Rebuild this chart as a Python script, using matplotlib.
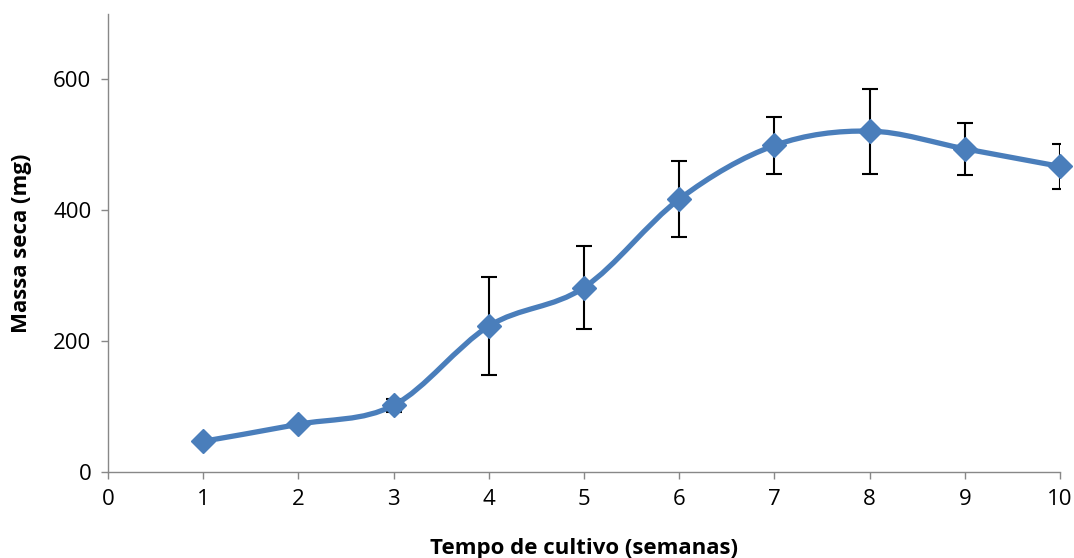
import matplotlib
matplotlib.use("Agg")
import matplotlib.pyplot as plt
from matplotlib.path import Path
from matplotlib.patches import PathPatch
import numpy as np

plt.rcParams['font.family'] = ['Open Sans', 'DejaVu Sans']

weeks = [1, 2, 3, 4, 5, 6, 7, 8, 9, 10]
mass = [47, 73, 102, 223, 282, 417, 499, 521, 494, 467]
err = [0, 0, 10, 75, 64, 58, 44, 65, 40, 35]
xticks = [0, 1, 2, 3, 4, 5, 6, 7, 8, 9, 10]
yticks = [0, 200, 400, 600]

color = '#4A7EBB'

fig = plt.figure(figsize=(10.74, 5.58), dpi=100)
ax = fig.add_axes([0.1006, 0.154, 0.8864, 0.821])

ax.errorbar(weeks, mass, yerr=err, fmt='none', ecolor='black', elinewidth=1.5,
            capsize=6, capthick=1.5, zorder=2)

# Excel-style smoothed line (cubic Bezier through points)
x = np.array(weeks, dtype=float)
y = np.array(mass, dtype=float)
pts = np.column_stack([x, y])
n = len(pts)
verts = [pts[0]]
codes = [Path.MOVETO]
for i in range(n - 1):
    p0 = pts[i - 1] if i > 0 else pts[i]
    p1 = pts[i]
    p2 = pts[i + 1]
    p3 = pts[i + 2] if i + 2 < n else pts[i + 1]
    c1 = p1 + (p2 - p0) / 6.0
    c2 = p2 - (p3 - p1) / 6.0
    verts += [c1, c2, p2]
    codes += [Path.CURVE4] * 3
path = Path(verts, codes)
ax.add_patch(PathPatch(path, facecolor='none', edgecolor=color, lw=3.8,
                       capstyle='round', joinstyle='round', zorder=3,
                       clip_on=False))
ax.plot(weeks, mass, linestyle='none', marker='D', markersize=12,
        color=color, zorder=4, clip_on=False)

ax.set_xlim(0, 10)
ax.set_ylim(0, 700)
ax.set_xticks(xticks)
ax.set_yticks(yticks)
ax.tick_params(axis='both', labelsize=16, color='#888888', length=5,
               direction='out', width=1, pad=7)
for s in ['top', 'right']:
    ax.spines[s].set_visible(False)
for s in ['left', 'bottom']:
    ax.spines[s].set_color('#888888')
    ax.spines[s].set_linewidth(1)

ax.set_xlabel('Tempo de cultivo (semanas)', fontsize=16, fontweight='bold', labelpad=20)
ax.set_ylabel('Massa seca (mg)', fontsize=16, fontweight='bold', labelpad=15)

fig.savefig('out.png', dpi=100)
